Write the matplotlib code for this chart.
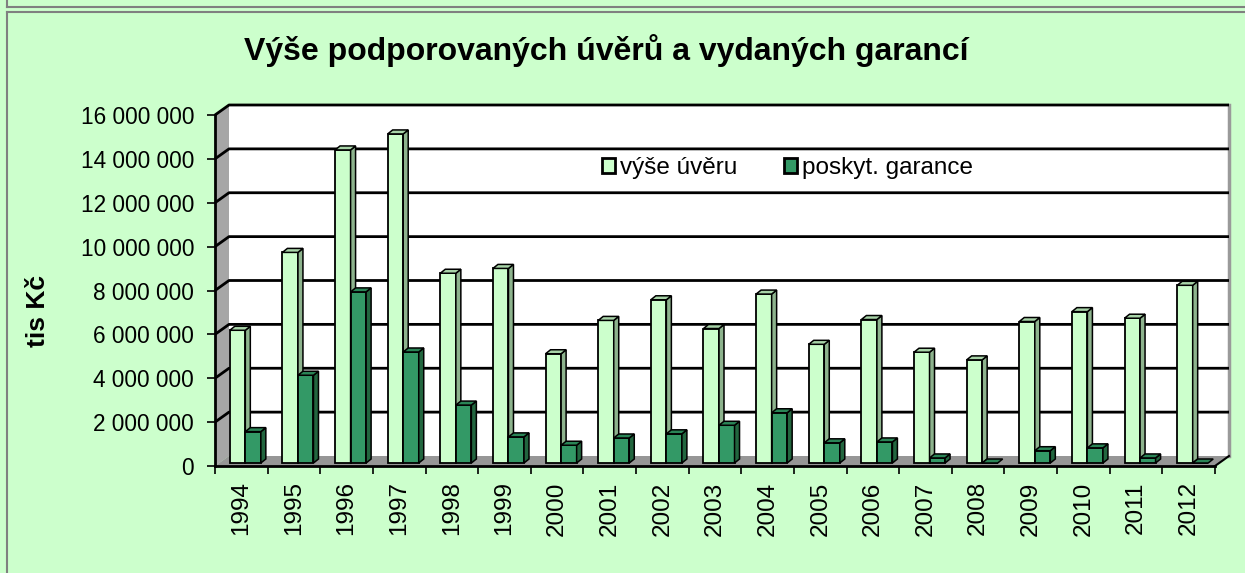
import matplotlib.pyplot as plt
from matplotlib.patches import Polygon, Rectangle, Patch
from matplotlib.lines import Line2D
from matplotlib.ticker import FuncFormatter, MultipleLocator, FixedLocator
import numpy as np

plt.rcParams['font.family'] = ['Liberation Sans', 'DejaVu Sans']

#DATA (tis Kč)
roky = ["1994", "1995", "1996", "1997", "1998", "1999", "2000", "2001", "2002", "2003",
        "2004", "2005", "2006", "2007", "2008", "2009", "2010", "2011", "2012"]
vyse_uveru = [6050000, 9600000, 14270000, 15000000, 8650000, 8870000, 4980000, 6500000,
              7440000, 6130000, 7700000, 5410000, 6540000, 5050000, 4700000, 6450000,
              6900000, 6600000, 8100000]
garance = [1430000, 4000000, 7800000, 5060000, 2640000, 1190000, 810000, 1140000,
           1330000, 1720000, 2290000, 920000, 960000, 230000, 0, 560000,
           690000, 230000, 0]

#COLORS
BG = "#ccffcc"
LIGHT = ("#ccffcc", "#8db38d", "#a8d4a8")   # front, side, top
DARK = ("#339966", "#22663f", "#2a8556")

W, H = 1245, 573
fig = plt.figure(figsize=(W / 100, H / 100), dpi=100)
fig.patch.set_facecolor(BG)

# frame lines
fig.add_artist(Line2D([7 / W, 7 / W], [1, 1 - 7 / H], color="#808080", lw=1.5))
fig.add_artist(Line2D([7 / W, 1], [1 - 7 / H, 1 - 7 / H], color="#808080", lw=1.5))
fig.add_artist(Line2D([7 / W, 7 / W], [0, 1 - 12 / H], color="#808080", lw=1.5))
fig.add_artist(Line2D([7 / W, 1], [1 - 12 / H, 1 - 12 / H], color="#808080", lw=1.5))

ax = fig.add_axes([215 / W, 1 - 466 / H, 1000 / W, 351 / H])
ax.patch.set_visible(False)
n = len(roky)
ax.set_xlim(0, n)
ax.set_ylim(0, 16000000)


def px2data(px, py):
    inv = ax.transData.inverted()
    p0 = inv.transform(ax.transData.transform((0, 0)))
    p1 = inv.transform(ax.transData.transform((0, 0)) + np.array([px, py]))
    return p1 - p0


DX, DY = px2data(14, 10)    # wall depth
BX, BY = px2data(4, 3)      # bar plane
SX, SY = px2data(5, 4)      # bar depth
YMAX = 16000000

# walls and floor
ax.add_patch(Rectangle((DX, DY), n, YMAX, fc="white", ec="none", zorder=0, clip_on=False))
ax.add_patch(Polygon([(0, 0), (DX, DY), (DX, YMAX + DY), (0, YMAX)], closed=True,
                     fc="#a6a6a6", ec="none", zorder=0, clip_on=False))
ax.add_patch(Polygon([(0, 0), (n, 0), (n + DX, DY), (DX, DY)], closed=True,
                     fc="#969696", ec="none", zorder=0.5, clip_on=False))
ax.plot([n + DX, n + DX], [DY, YMAX + DY], color="#9a9a9a", lw=2.5, zorder=0.6, clip_on=False)
ax.plot([n, n + DX], [0, DY], color="black", lw=1.5, zorder=0.6, clip_on=False)
for v in range(2000000, YMAX + 1, 2000000):
    ax.plot([0, DX, n + DX], [v, v + DY, v + DY], color="black", lw=2, zorder=0.6,
            clip_on=False, solid_capstyle="butt")

# 3D bars
w = 0.295
x = np.arange(n) + 0.5


def bars3d(xs, vals, cols, z):
    ax.bar(xs + BX, vals, bottom=BY, width=w, color=cols[0], edgecolor="black",
           linewidth=1.3, zorder=z, clip_on=False)
    for xc, h in zip(xs, vals):
        x0 = xc + BX - w / 2
        x1 = xc + BX + w / 2
        b = BY
        t = BY + h
        if h > 0:
            ax.add_patch(Polygon([(x1, b), (x1 + SX, b + SY), (x1 + SX, t + SY), (x1, t)],
                                 closed=True, fc=cols[1], ec="black", lw=1.1, zorder=z,
                                 clip_on=False))
        ax.add_patch(Polygon([(x0, t), (x0 + SX, t + SY), (x1 + SX, t + SY), (x1, t)],
                             closed=True, fc=cols[2], ec="black", lw=1.1, zorder=z,
                             clip_on=False))


bars3d(x - w / 2, vyse_uveru, LIGHT, 2)
bars3d(x + w / 2, garance, DARK, 3)

# axes
for s in ["top", "right"]:
    ax.spines[s].set_visible(False)
for s in ["left", "bottom"]:
    ax.spines[s].set_linewidth(2)
    ax.spines[s].set_zorder(4)

ax.yaxis.set_major_locator(MultipleLocator(2000000))
ax.yaxis.set_major_formatter(FuncFormatter(lambda v, p: f"{v:,.0f}".replace(",", " ")))
ax.tick_params(axis="y", length=6, width=1.2, pad=9, labelsize=16.3)
ax.set_xticks(x)
ax.set_xticklabels(roky, rotation=90, fontsize=17.5)
ax.xaxis.set_minor_locator(FixedLocator(np.arange(n + 1)))
ax.tick_params(axis="x", which="major", length=0, pad=11)
ax.tick_params(axis="x", which="minor", length=6, width=1.2)

fig.text(38 / W, 1 - 311 / H, "tis Kč", rotation=90, ha="center", va="center",
         fontsize=19, fontweight="bold")
fig.text(606 / W, 1 - 51 / H, "Výše podporovaných úvěrů a vydaných garancí",
         ha="center", va="center", fontsize=23, fontweight="bold")

handles = [Patch(fc=LIGHT[0], ec="black", lw=2), Patch(fc=DARK[0], ec="black", lw=2)]
fig.legend(handles, ["výše úvěru", "poskyt. garance"], loc="center left",
           bbox_to_anchor=(602 / W, 1 - 168 / H), ncol=2, frameon=False, fontsize=17.5,
           handlelength=0.55, handleheight=0.55, handletextpad=0.2, columnspacing=1.9,
           borderpad=0, borderaxespad=0)

fig.savefig("out.png", dpi=100, facecolor=BG)
